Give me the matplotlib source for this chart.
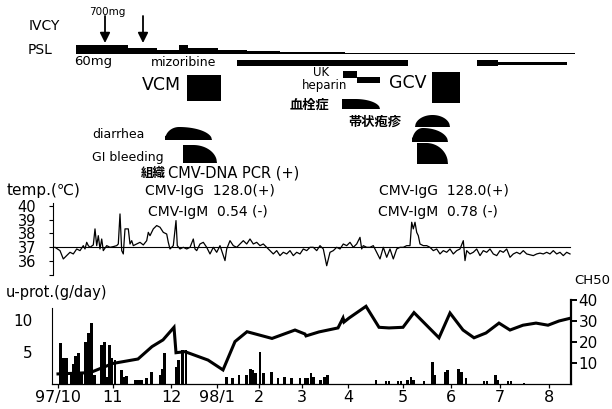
import numpy as np
import matplotlib
matplotlib.use('Agg')
import matplotlib.pyplot as plt
from matplotlib.patches import Rectangle, Polygon

plt.rcParams['font.family'] = ['DejaVu Sans', 'Noto Sans CJK JP']

W, H = 612, 409

# time axis (chart units, 0 = 97/10)
month_t = [0, 55, 113, 159, 201, 244, 290, 345, 393, 442, 491]
month_lbl = ['97/10', '11', '12', '98/1', '2', '3', '4', '5', '6', '7', '8']

# treatments
ivcy_t = [47, 85]
psl_t = [18, 70, 99, 121, 130, 160, 189, 222, 269, 287, 335, 372, 517]
psl_mg = [60, 40, 28, 62, 40, 28, 20, 15, 12, 8, 5, 6, 6]
mizo_start = [179, 419, 440]
mizo_end = [350, 440, 509]
mizo_level = [1.0, 1.0, 0.6]
vcm = (129, 163)
gcv = (374, 402)
uk = (285, 299)
heparin = (299, 322)
thrombosis = [(284, 322)]
zoster = [(357, 392)]
diarrhea = [(107, 154), (354, 390)]
gi_bleeding = [(125, 159), (359, 390)]

# body temperature
temp_t = [-3, 2, 5.3, 8.7, 12, 15.3, 18.7, 22, 25.3, 27, 28.7, 30.3, 32, 35.3, 37, 38.7,
          40.3, 42, 43.7, 45.3, 48.7, 52, 55.3, 58.7, 60.3, 62, 63.7, 65.3, 67, 68.7,
          70.3, 72, 73.7, 75.3, 78.7, 82, 85.3, 88.7, 90.3, 92, 95.3, 98.7, 102, 105.3,
          108.7, 110.3, 112, 115.3, 118, 119.3, 122, 125.3, 128.7, 132, 135.3, 137,
          138.7, 142, 145.3, 148.7, 152, 155.3, 158.7, 162, 165.3, 167, 168.7, 172,
          175.3, 178.7, 182, 185.3, 188.7, 192, 195.3, 198.7, 202, 205.3, 208.7, 212,
          215.3, 218.7, 222, 225.3, 228.7, 232, 235.3, 238.7, 242, 245.3, 248.7, 252,
          255.3, 258.7, 262, 265.3, 268.7, 272, 275.3, 278.7, 282, 285.3, 288.7, 292,
          295.3, 298.7, 302, 303.7, 305.3, 308.7, 312, 315.3, 318.7, 322, 325.3, 328.7,
          332, 335.3, 338.7, 342, 345.3, 348.7, 352, 353.7, 355.3, 357, 358.7, 360.3,
          362, 365.3, 368.7, 372, 375.3, 378.7, 382, 385.3, 388.7, 392, 395.3, 398.7,
          402, 405.3, 407, 408.7, 412, 415.3, 418.7, 422, 425.3, 428.7, 432, 435.3,
          438.7, 442, 445.3, 448.7, 452, 455.3, 458.7, 462, 465.3, 468.7, 475.3, 478.7,
          482, 485.3, 488.7, 492, 495.3, 498.7, 502, 505.3, 508.7, 512]
temp_v = [37.0, 36.76, 36.16, 36.40, 36.64, 36.52, 36.88, 36.76, 37.12, 36.88, 37.36, 37.12,
          37.0, 37.17, 38.33, 37.12, 37.84, 36.88, 37.60, 36.76, 37.12, 37.0, 37.05, 37.12,
          37.24, 39.41, 36.76, 36.52, 38.33, 38.33, 38.33, 37.24, 37.48, 37.12, 37.24, 37.36,
          37.17, 37.48, 38.08, 37.84, 38.33, 38.57, 38.45, 38.08, 37.96, 37.36, 36.88, 37.12,
          38.93, 37.12, 36.88, 37.0, 36.88, 37.0, 37.60, 36.88, 36.76, 37.24, 37.36, 37.0,
          36.52, 37.0, 36.64, 37.12, 36.40, 36.04, 36.88, 37.48, 37.12, 37.0, 37.24, 37.48,
          37.24, 37.60, 37.24, 37.36, 37.12, 37.24, 37.0, 36.76, 36.52, 36.76, 36.40, 36.64,
          36.52, 36.76, 36.40, 36.64, 36.52, 36.88, 36.76, 37.0, 37.0, 36.76, 37.12, 36.88,
          35.67, 36.64, 36.76, 37.0, 36.88, 37.24, 37.12, 37.36, 37.0, 37.24, 37.72, 36.88,
          37.12, 37.0, 37.0, 37.12, 36.64, 36.16, 37.0, 36.28, 36.88, 36.16, 36.88, 37.0,
          37.0, 37.12, 37.12, 38.81, 38.33, 38.81, 38.08, 37.84, 37.24, 37.12, 37.12, 37.0,
          36.76, 36.88, 36.52, 36.76, 36.64, 36.88, 36.52, 36.76, 36.88, 37.48, 36.04, 36.76,
          36.52, 36.64, 36.88, 36.40, 36.76, 36.64, 36.88, 36.52, 36.40, 36.76, 36.64, 36.88,
          36.28, 36.52, 36.64, 36.52, 36.76, 36.52, 36.40, 36.52, 36.58, 36.52, 36.64, 36.52,
          36.76, 36.52, 36.64, 36.40, 36.64, 36.52]

# urinary protein (g/day)
uprot_t = [2.5, 5.3, 8.7, 12.8, 15.3, 17.5, 20.5, 23.7, 27.7, 30.7, 33.3, 36.7, 43.7, 46.7,
           49.2, 51.2, 53.7, 57, 63.3, 65.5, 68.5, 77.5, 80.5, 83.5, 88.7, 93.7, 102, 104.5,
           106.7, 118, 120.7, 124.3, 128, 168.7, 174.5, 181, 188.7, 192.5, 195, 197.5, 202,
           205.3, 213.3, 220, 226.7, 233.7, 242, 247, 249.7, 253, 255.5, 262.2, 266.7, 269.7,
           318, 328, 331, 340, 343, 349.7, 353, 355.5, 366, 374.2, 377, 387.3, 389.3, 400.3,
           403.7, 408, 426, 429, 437.5, 439.7, 450, 453, 466]
uprot_v = [6.4, 4.0, 4.0, 1.7, 3.2, 4.4, 4.8, 1.9, 6.6, 7.9, 9.5, 1.4, 6.1, 6.6,
           1.1, 6.1, 4.0, 3.8, 2.2, 1.1, 1.3, 0.6, 0.6, 0.6, 0.9, 1.8, 1.4, 2.4,
           4.8, 2.7, 3.8, 5.3, 5.3, 1.1, 0.9, 1.4, 1.4, 2.4, 2.2, 1.7, 5.0,
           1.7, 1.8, 0.9, 1.1, 0.9, 1.0, 0.9, 1.0, 1.7, 1.1, 0.6, 1.1, 1.4,
           0.7, 0.4, 0.4, 0.5, 0.5, 0.6, 1.1, 0.6, 0.4, 3.5, 1.4, 1.9, 2.2, 2.3,
           1.9, 0.9, 0.5, 0.5, 1.4, 0.7, 0.4, 0.4, 0.2]

# CH50
ch50_t = [0, 32, 55, 80, 94, 105, 116, 118, 127, 150, 165, 177, 189, 214, 237, 247, 248,
          261, 280, 285, 286, 291, 308, 321, 331, 345, 356, 381, 392, 405, 416, 428, 441,
          452, 465, 478, 490, 501, 513]
ch50_v = [4.8, 5.4, 9.8, 11.9, 17.8, 21, 27, 14.9, 15.4, 11.4, 6.7, 20.2, 24.9, 21.7, 25.7,
          23.8, 22.9, 24.8, 26.7, 31.4, 29.5, 31.4, 37, 27, 26.7, 27, 34, 22, 33.8, 25.7,
          22, 24.3, 29, 25.7, 28, 29, 28, 30, 31.4]


def fx(x):
    return x / W


def fy(y):
    return 1 - y / H


def label(x, y, s, size=9, ha='left', **kw):
    fig.text(fx(x), fy(y), s, fontsize=size, ha=ha, va='center', **kw)


def quarter(u, flat=0.35):
    u2 = np.clip((u - flat) / (1 - flat), 0, 1)
    return np.sqrt(1 - u2 ** 2)


def skew(u, p=0.3):
    left = np.sqrt(np.clip(1 - ((p - u) / p) ** 2, 0, 1))
    right = np.sqrt(np.clip(1 - ((u - p) / (1 - p)) ** 2, 0, 1))
    h = np.where(u < p, np.maximum(left, 0.3), right)
    return h


def dome(u):
    return np.sqrt(np.clip(1 - (2 * u - 1) ** 2, 0, 1))


fig = plt.figure(figsize=(W / 100, H / 100), dpi=100, facecolor='white')

# ---- PSL dose strip
ax_p = fig.add_axes([0, fy(54), 1, 10 / H])
ax_p.set_xlim(-58, W - 58)
ax_p.set_ylim(0, 66.7)
ax_p.fill_between(psl_t, 0, psl_mg, step='post', color='black', lw=0)
ax_p.axis('off')

# ---- temperature
ax_t = fig.add_axes([fx(53), fy(275), (575 - 53) / W, 72 / H])
ax_t.set_xlim(-5, 517)
ax_t.set_ylim(35.0, 40.2)
ax_t.plot(temp_t, temp_v, color='black', lw=0.9)
ax_t.plot([-5, 512], [37, 37], color='black', lw=0.8)
for s in ['top', 'right', 'bottom']:
    ax_t.spines[s].set_visible(False)
ax_t.spines['left'].set_linewidth(0.8)
ax_t.set_xticks([])
ax_t.set_yticks([35, 36, 37, 38, 39, 40], ['', '36', '37', '38', '39', '40'])
ax_t.tick_params(axis='y', length=3, width=0.8, pad=9, labelsize=10.5)
ax_t.patch.set_alpha(0)

# ---- urinary protein + CH50
ax_b = fig.add_axes([fx(52), fy(384), 519 / W, 86 / H])
ax_b.set_xlim(-6, 513)
ax_b.set_ylim(0, 86 / 6.4)
ax_b.bar(uprot_t, uprot_v, width=2.6, color='black', lw=0)
ax_b.spines['top'].set_visible(False)
ax_b.spines['right'].set_visible(False)
ax_b.spines['left'].set_bounds(0, 11.9)
ax_b.spines['left'].set_linewidth(0.8)
ax_b.spines['bottom'].set_linewidth(0.9)
ax_b.set_yticks([5, 10])
ax_b.tick_params(axis='y', length=0, pad=14, labelsize=11)
ax_b.set_xticks(month_t, month_lbl)
ax_b.tick_params(axis='x', length=3, width=0.9, pad=1, labelsize=11.5)
ax_b.patch.set_alpha(0)

ax_c = ax_b.twinx()
ax_c.set_ylim(0, 86 / 2.1)
ax_c.plot(ch50_t, ch50_v, color='black', lw=2.2, solid_joinstyle='miter')
for s in ['top', 'left', 'bottom']:
    ax_c.spines[s].set_visible(False)
ax_c.spines['right'].set_bounds(0, 40)
ax_c.spines['right'].set_linewidth(1.6)
ax_c.set_yticks([10, 20, 30, 40])
ax_c.tick_params(axis='y', length=4, width=1.4, pad=1.5, labelsize=11)

# ---- treatment overlay (time on x, layout rows on y)
ax_o = fig.add_axes([0, 0, 1, 1])
ax_o.set_xlim(-58, W - 58)
ax_o.set_ylim(H, 0)
ax_o.axis('off')

for t in ivcy_t:
    ax_o.annotate('', xy=(t, 43), xytext=(t, 16),
                  arrowprops=dict(arrowstyle='-|>', color='black', lw=1.3,
                                  mutation_scale=15, shrinkA=0, shrinkB=0))

for a, b, lv in zip(mizo_start, mizo_end, mizo_level):
    ax_o.add_patch(Rectangle((a, 65.5 - 6 * lv), b - a, 6 * lv, color='black', lw=0))

ax_o.add_patch(Rectangle((vcm[0], 75), vcm[1] - vcm[0], 26, color='black', lw=0))
ax_o.add_patch(Rectangle((gcv[0], 72), gcv[1] - gcv[0], 31, color='black', lw=0))
ax_o.add_patch(Rectangle((uk[0], 71), uk[1] - uk[0], 6.5, color='black', lw=0))
ax_o.add_patch(Rectangle((heparin[0], 77), heparin[1] - heparin[0], 6, color='black', lw=0))


def shape(span, top, bottom, fn):
    u = np.linspace(0, 1, 60)
    xs = span[0] + u * (span[1] - span[0])
    ys = bottom - fn(u) * (bottom - top)
    pts = np.column_stack([np.r_[span[0], xs, span[1]], np.r_[bottom, ys, bottom]])
    ax_o.add_patch(Polygon(pts, closed=True, color='black', lw=0))


for sp in thrombosis:
    shape(sp, 99, 109, lambda u: quarter(u, 0.35))
for sp in zoster:
    shape(sp, 115, 127, dome)
shape(diarrhea[0], 127, 140, skew)
shape(diarrhea[1], 128, 142, skew)
shape(gi_bleeding[0], 145, 163, lambda u: quarter(u, 0.3))
shape(gi_bleeding[1], 143, 164, lambda u: quarter(u, 0.3))

# ---- labels
label(29, 26, 'IVCY', 10)
label(28, 50, 'PSL', 10)
label(107, 12, '700mg', 7.5, ha='center')
label(74, 62, '60mg', 9.5)
label(151, 63, 'mizoribine', 9)
label(161, 85, 'VCM', 12.5, ha='center')
label(408, 83, 'GCV', 12.5, ha='center')
label(321, 73, 'UK', 8.5, ha='center')
label(325, 85, 'heparin', 8.5, ha='center')
label(310, 105, '血栓症', 9.5, ha='center', fontweight='bold')
label(375, 122, '帯状疱疹', 9.5, ha='center', fontweight='bold')
label(92, 135, 'diarrhea', 9)
label(92, 157, 'GI bleeding', 9)
label(141, 173, '組織', 9, fontweight='bold')
label(168, 173, 'CMV-DNA PCR (+)', 10.5)
label(7, 190, 'temp.(℃)', 11)
label(145, 191, 'CMV-IgG  128.0(+)', 10)
label(379, 191, 'CMV-IgG  128.0(+)', 10)
label(148, 212, 'CMV-IgM  0.54 (-)', 10)
label(378, 212, 'CMV-IgM  0.78 (-)', 10)
label(6, 292, 'u-prot.(g/day)', 10.5)
label(574, 281, 'CH50', 9.5)

fig.savefig('out.png', dpi=100, facecolor='white')
